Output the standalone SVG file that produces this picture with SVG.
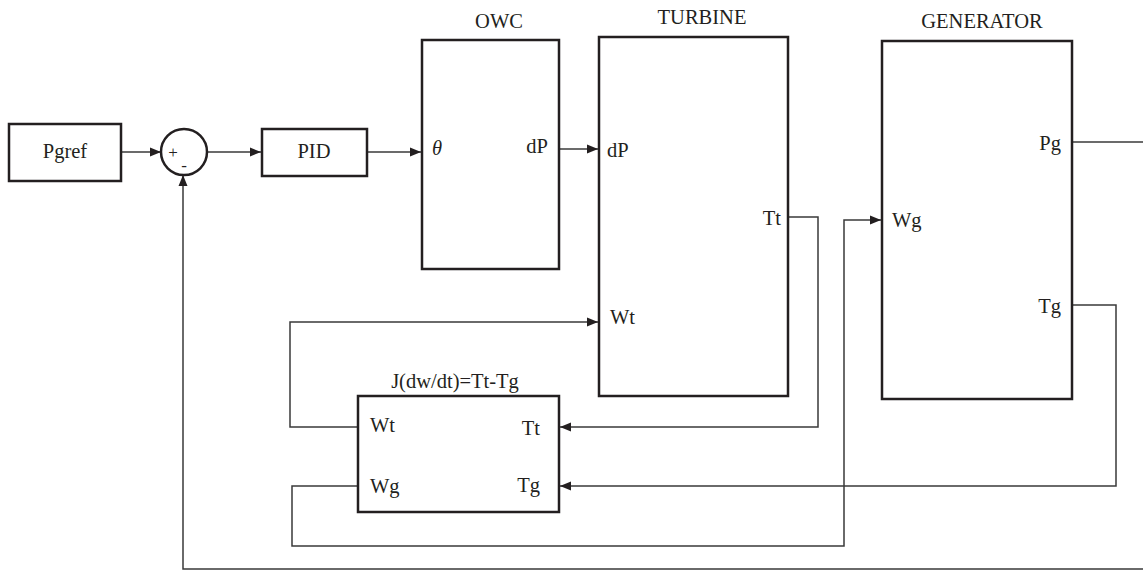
<svg xmlns="http://www.w3.org/2000/svg" width="1143" height="571" viewBox="0 0 1143 571">
<style>
.box{fill:#fff;stroke:#231f20;stroke-width:2.5}
.wire{fill:none;stroke:#3a3a3a;stroke-width:1.5}
text{font-family:"Liberation Serif","Times New Roman",serif;font-size:20.5px;fill:#231f20}
.m{text-anchor:middle}
.e{text-anchor:end}
.s{font-size:17px}
</style>
<defs>
<marker id="ah" markerUnits="userSpaceOnUse" markerWidth="12" markerHeight="10" refX="11" refY="5" orient="auto">
<path d="M0,0.5 L11,5 L0,9.5 Z" fill="#231f20"/>
</marker>
</defs>
<rect width="1143" height="571" fill="#fff"/>
<g id="connectors">
<path class="wire" d="M121,152 H161" marker-end="url(#ah)"/>
<path class="wire" d="M207,152 H261" marker-end="url(#ah)"/>
<path class="wire" d="M367,152 H421" marker-end="url(#ah)"/>
<path class="wire" d="M559,149 H598" marker-end="url(#ah)"/>
<path class="wire" d="M788,217 H818 V427 H560" marker-end="url(#ah)"/>
<path class="wire" d="M1072,305 H1116 V486 H560" marker-end="url(#ah)"/>
<path class="wire" d="M358,427 H290 V322 H598" marker-end="url(#ah)"/>
<path class="wire" d="M358,486 H292 V546 H844 V220 H881" marker-end="url(#ah)"/>
<path class="wire" d="M1072,142 H1143"/>
<path class="wire" d="M1143,569 H183 V175" marker-end="url(#ah)"/>
</g>
<g id="pgref">
<rect class="box" x="9" y="124" width="112" height="57"/>
<text class="m" x="65" y="158">Pgref</text>
</g>
<g id="sum">
<circle class="box" cx="184" cy="152" r="23"/>
<text class="m s" x="173" y="158">+</text>
<text class="m s" x="184" y="171">-</text>
</g>
<g id="pid">
<rect class="box" x="262" y="129" width="105" height="47"/>
<text class="m" x="314" y="158">PID</text>
</g>
<g id="owc">
<rect class="box" x="422" y="40" width="137" height="229"/>
<text class="m" x="499" y="28">OWC</text>
<text x="432" y="155" font-style="italic">θ</text>
<text class="e" x="548" y="153">dP</text>
</g>
<g id="turbine">
<rect class="box" x="599" y="37" width="189" height="359"/>
<text class="m" x="702" y="24">TURBINE</text>
<text x="607" y="157">dP</text>
<text class="e" x="781" y="225">Tt</text>
<text x="610" y="324">Wt</text>
</g>
<g id="generator">
<rect class="box" x="882" y="41" width="190" height="358"/>
<text class="m" x="982" y="28">GENERATOR</text>
<text class="e" x="1061" y="150">Pg</text>
<text x="892" y="227">Wg</text>
<text class="e" x="1061" y="313">Tg</text>
</g>
<g id="inertia">
<rect class="box" x="358" y="396" width="201" height="116"/>
<text class="m" x="455" y="388">J(dw/dt)=Tt-Tg</text>
<text x="370" y="432">Wt</text>
<text class="e" x="540" y="435">Tt</text>
<text x="370" y="493">Wg</text>
<text class="e" x="540" y="492">Tg</text>
</g>
</svg>
